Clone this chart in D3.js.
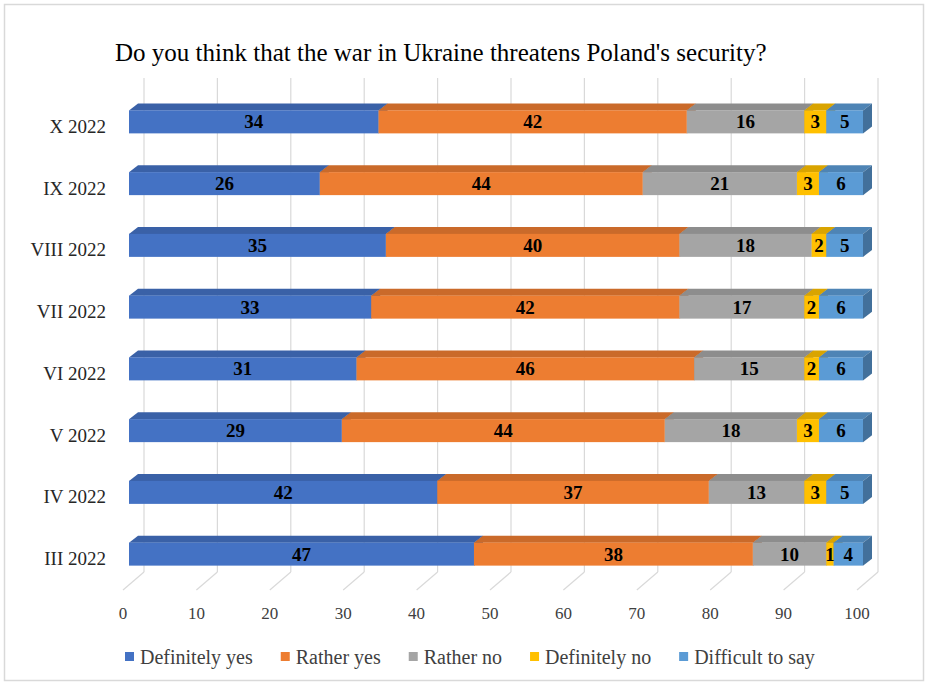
<!DOCTYPE html>
<html>
<head>
<meta charset="utf-8">
<title></title>
<style type="text/css">
    body{ padding:0; margin:0; overflow:hidden; background:#fff; }
</style>
</head>
<body>
<div id="chart"></div>
<script src="https://cdn.jsdelivr.net/npm/d3@7/dist/d3.min.js"></script>
<script type="text/javascript">

// ---- data ----
var categories = ["X 2022","IX 2022","VIII 2022","VII 2022","VI 2022","V 2022","IV 2022","III 2022"];
var seriesNames = ["Definitely yes","Rather yes","Rather no","Definitely no","Difficult to say"];
var definitelyYes = [34,26,35,33,31,29,42,47];
var ratherYes     = [42,44,40,42,46,44,37,38];
var ratherNo      = [16,21,18,17,15,18,13,10];
var definitelyNo  = [3,3,2,2,2,3,3,1];
var difficult     = [5,6,5,6,6,6,5,4];
var xTicks = [0,10,20,30,40,50,60,70,80,90,100];
var colors = ["#4472C4","#ED7D31","#A5A5A5","#FFC000","#5B9BD5"];

var title = "Do you think that the war in Ukraine threatens Poland's security?";

var width = 925, height = 685;

var rows = categories.map(function(c,i){
    return {cat:c, vals:[definitelyYes[i],ratherYes[i],ratherNo[i],definitelyNo[i],difficult[i]]};
});
var stacked = d3.stack().keys([0,1,2,3,4]).value(function(d,k){ return d.vals[k]; })(rows);

// floor front plane
var x = d3.scaleLinear().domain([0,100]).range([123,857]);
var y = d3.scaleBand().domain(categories).range([96,590]).padding(0);

// 3d offsets
var wall = {dx:21, dy:-18};     // back wall from floor front
var barOff = {dx:6, dy:-5};     // bar front plane from floor front
var barDepth = {dx:9, dy:-7};   // bar thickness
var barH = 23;

var svg = d3.select('#chart').append('svg')
    .attr('width',width).attr('height',height);

svg.append('rect')
    .attr('x',4.5).attr('y',4.5).attr('width',919).attr('height',676)
    .attr('fill','#fff').attr('stroke','#d9d9d9').attr('stroke-width',1.5);

svg.append('text')
    .attr('x',115).attr('y',61)
    .attr('font-family','"Liberation Serif", "Times New Roman", serif')
    .attr('font-size',25).attr('fill','#000')
    .text(title);

// grid: floor diagonals + back wall verticals
var grid = svg.append('g').attr('stroke','#d9d9d9').attr('stroke-width',1.2).attr('fill','none');
grid.selectAll('.diag').data(xTicks).enter().append('line')
    .attr('x1',d=>x(d)).attr('y1',590)
    .attr('x2',d=>x(d)+wall.dx).attr('y2',590+wall.dy);
grid.selectAll('.vert').data(xTicks).enter().append('line')
    .attr('x1',d=>x(d)+wall.dx).attr('y1',590+wall.dy)
    .attr('x2',d=>x(d)+wall.dx).attr('y2',78);

// tick labels
svg.append('g').selectAll('text').data(xTicks).enter().append('text')
    .attr('x',d=>x(d)).attr('y',619)
    .attr('text-anchor','middle')
    .attr('font-family','"Liberation Serif", "Times New Roman", serif')
    .attr('font-size',17).attr('fill','#404040')
    .text(d=>d);

// category labels
svg.append('g').selectAll('text').data(categories).enter().append('text')
    .attr('x',106).attr('y',d=>y(d)+y.bandwidth()/2+6)
    .attr('text-anchor','end')
    .attr('font-family','"Liberation Serif", "Times New Roman", serif')
    .attr('font-size',19).attr('fill','#262626')
    .text(d=>d);

// bars
var bars = svg.append('g');
stacked.forEach(function(layer,k){
    var base = d3.color(colors[k]);
    var top = base.darker(0.45), side = base.darker(0.9);
    layer.forEach(function(d){
        var cat = d.data.cat;
        var x0 = x(d[0])+barOff.dx, x1 = x(d[1])+barOff.dx;
        var yt = y(cat)+y.bandwidth()/2+barOff.dy-barH/2;
        var g = bars.append('g');
        g.append('polygon')
            .attr('points',[[x0,yt],[x0+barDepth.dx,yt+barDepth.dy],[x1+barDepth.dx,yt+barDepth.dy],[x1,yt]].join(' '))
            .attr('fill',top);
        g.append('polygon')
            .attr('points',[[x1,yt],[x1+barDepth.dx,yt+barDepth.dy],[x1+barDepth.dx,yt+barDepth.dy+barH],[x1,yt+barH]].join(' '))
            .attr('fill',side);
        g.append('rect')
            .attr('x',x0).attr('y',yt).attr('width',x1-x0).attr('height',barH)
            .attr('fill',base);
    });
});

// value labels
stacked.forEach(function(layer){
    bars.append('g').selectAll('text').data(layer).enter().append('text')
        .attr('x',d=>(x(d[0])+x(d[1]))/2+barOff.dx)
        .attr('y',d=>y(d.data.cat)+y.bandwidth()/2+barOff.dy+6.5)
        .attr('text-anchor','middle')
        .attr('font-family','"Liberation Serif", "Times New Roman", serif')
        .attr('font-size',19).attr('font-weight','bold').attr('fill','#000')
        .text(d=>d[1]-d[0]);
});

// legend
var legend = svg.append('g');
var lx = 125;
seriesNames.forEach(function(name,k){
    legend.append('rect').attr('x',lx).attr('y',652).attr('width',9).attr('height',9).attr('fill',colors[k]);
    var t = legend.append('text').attr('x',lx+15).attr('y',664)
        .attr('font-family','"Liberation Serif", "Times New Roman", serif')
        .attr('font-size',20).attr('fill','#404040')
        .text(name);
    lx += 15 + t.node().getComputedTextLength() + 28;
});

</script>
</body>
</html>
